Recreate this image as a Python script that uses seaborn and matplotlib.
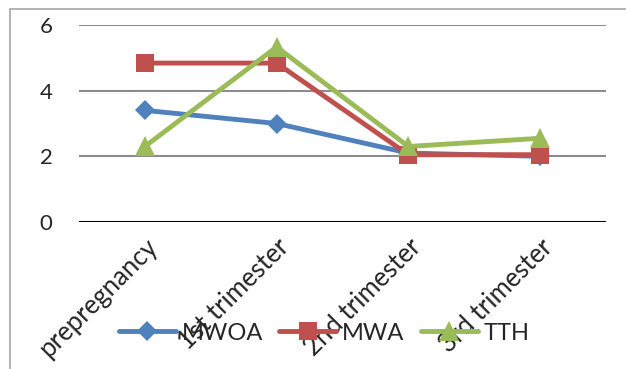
import matplotlib
matplotlib.use("Agg")
import matplotlib.pyplot as plt
import seaborn as sns
import pandas as pd
from matplotlib.patches import Rectangle

categories = ["prepregnancy", "1st trimester", "2nd trimester", "3rd trimester"]
mwoa = [3.4, 3.0, 2.1, 2.0]
mwa = [4.84, 4.84, 2.05, 2.05]
tth = [2.3, 5.33, 2.3, 2.55]
series_names = ["MWOA", "MWA", "TTH"]
yticks = [0, 2, 4, 6]

colors = ["#4F81BD", "#C0504D", "#9BBB59"]
markers = ["D", "s", "^"]
msizes = [10, 13, 15]

rows = []
for name, vals in zip(series_names, [mwoa, mwa, tth]):
    for i, v in enumerate(vals):
        rows.append({"pos": i, "value": v, "series": name})
df = pd.DataFrame(rows)

sns.set_theme(style="white")
plt.rcParams["font.family"] = ["Lato", "DejaVu Sans"]

fig = plt.figure(figsize=(6.26, 3.69), dpi=100)
ax = fig.add_axes([79 / 626, 1 - 222 / 369, (606 - 79) / 626, (222 - 25) / 369])

for (name, color, mk, ms) in zip(series_names, colors, markers, msizes):
    sub = df[df["series"] == name]
    sns.lineplot(data=sub, x="pos", y="value", ax=ax, color=color, lw=3.5,
                 marker=mk, markersize=ms, markeredgewidth=0, label=name,
                 legend=False, zorder=3)

ax.set_xlim(-0.5, len(categories) - 0.5)
ax.set_ylim(0, 6)
ax.set_yticks(yticks)
ax.set_yticklabels([str(t) for t in yticks], fontsize=16)
ax.set_xticks(range(len(categories)))
ax.set_xticklabels(categories, rotation=45, ha="right", rotation_mode="anchor",
                   fontsize=18.5)
ax.tick_params(axis="y", length=0, pad=19)
ax.tick_params(axis="x", length=0, pad=9)
ax.set_xlabel("")
ax.set_ylabel("")
for t in yticks[1:]:
    ax.axhline(t, color="#8C8C8C", lw=1.5, zorder=1)
ax.axhline(0, color="black", lw=2.2, zorder=2)
for s in ax.spines.values():
    s.set_visible(False)

# outer chart border
fig.patches.append(Rectangle((10 / 626, -0.1), 1.0, 1.1 - 9 / 369,
                             transform=fig.transFigure, fill=False,
                             edgecolor="#A6A6A6", lw=1.2))

handles = [plt.Line2D([0], [0], color=c, lw=3.5, marker=m, markersize=s,
                      markeredgewidth=0) for c, m, s in zip(colors, markers, msizes)]
fig.legend(handles, series_names, loc="center", bbox_to_anchor=(0.518, 1 - 333 / 369),
           ncol=3, frameon=False, fontsize=17, handlelength=2.4,
           columnspacing=0.7, handletextpad=0.25)

fig.savefig("out.png", dpi=100)
